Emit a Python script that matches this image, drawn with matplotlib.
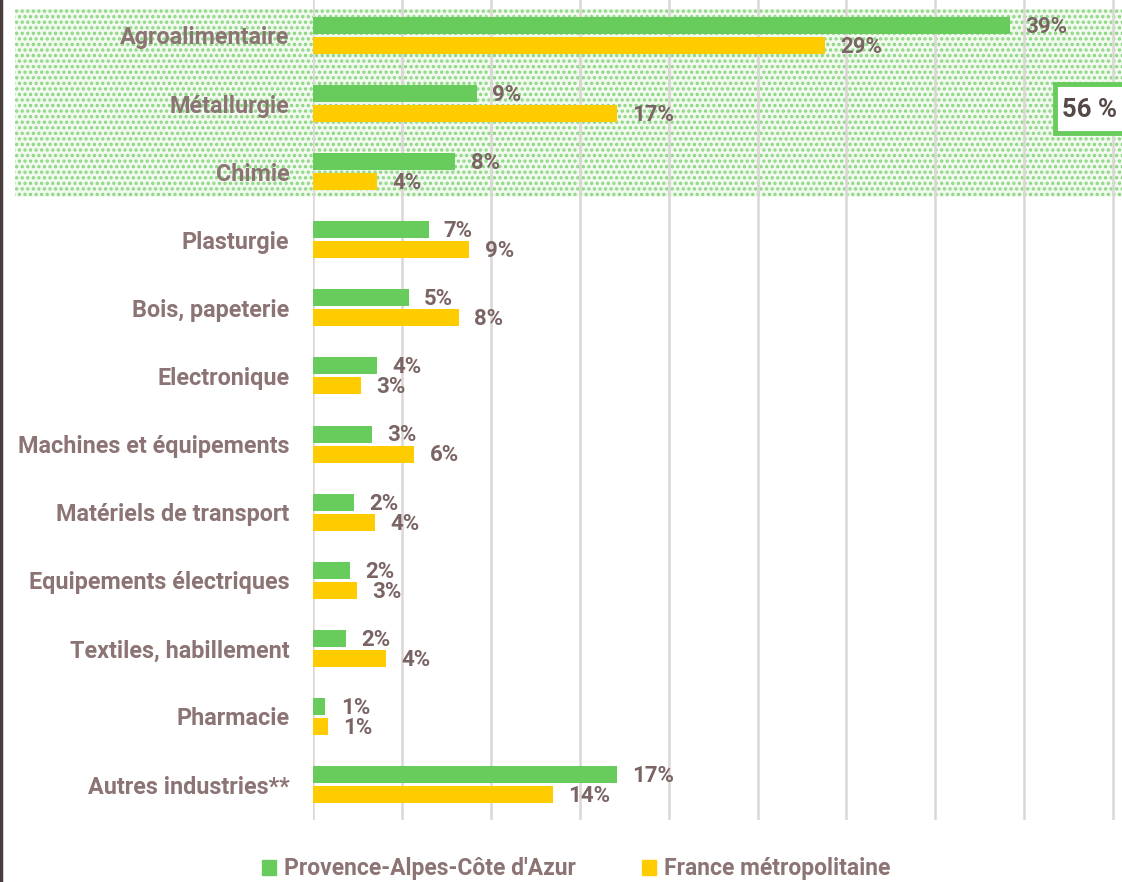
import numpy as np
import matplotlib.pyplot as plt
from matplotlib.patches import Rectangle
from matplotlib.lines import Line2D

plt.rcParams['font.family'] = ['Roboto', 'DejaVu Sans']
plt.rcParams['hatch.linewidth'] = 1.6

# --- Data (share of industrial employment, %) ---
categories = ["Agroalimentaire", "Métallurgie", "Chimie", "Plasturgie",
              "Bois, papeterie", "Electronique", "Machines et équipements",
              "Matériels de transport", "Equipements électriques",
              "Textiles, habillement", "Pharmacie", "Autres industries**"]
paca = [39.2, 9.2, 8.0, 6.5, 5.4, 3.6, 3.3, 2.3, 2.1, 1.85, 0.7, 17.1]
france = [28.8, 17.1, 3.6, 8.8, 8.2, 2.7, 5.7, 3.5, 2.5, 4.1, 0.85, 13.5]
paca_labels = ["39%", "9%", "8%", "7%", "5%", "4%", "3%", "2%", "2%", "2%", "1%", "17%"]
france_labels = ["29%", "17%", "4%", "9%", "8%", "3%", "6%", "4%", "3%", "4%", "1%", "14%"]
series_names = ["Provence-Alpes-Côte d'Azur", "France métropolitaine"]
highlight_text = "56 %"

GREEN = "#68cc5c"
YELLOW = "#ffcc00"
LABEL_COL = "#8c7474"
VALUE_COL = "#7a6464"

W, H = 1122, 882
fig = plt.figure(figsize=(W / 100, H / 100), dpi=100)
ax = fig.add_axes([313 / W, 62 / H, 1 - 313 / W, 820 / H])
ax.set_facecolor("none")

# highlighted block behind the first three categories
hl = Rectangle((15 / W, 1 - 197 / H), 1 - 15 / W, 188 / H, transform=fig.transFigure,
               facecolor="#f2faf0", edgecolor="#8ad680", hatch="...", linewidth=0, zorder=-1)
fig.patches.append(hl)

y = np.arange(len(categories))
h = 0.25
off = 0.147
ax.barh(y - off, paca, height=h, color=GREEN, zorder=3)
ax.barh(y + off, france, height=h, color=YELLOW, zorder=3)

for i in range(len(categories)):
    ax.annotate(paca_labels[i], (paca[i], y[i] - off + 0.02), xytext=(11, 0),
                textcoords="offset points", va="center", ha="left",
                fontsize=16, fontweight="bold", color=VALUE_COL, zorder=4)
    ax.annotate(france_labels[i], (france[i], y[i] + off + 0.02), xytext=(11, 0),
                textcoords="offset points", va="center", ha="left",
                fontsize=16, fontweight="bold", color=VALUE_COL, zorder=4)

ax.set_xlim(0, 45.5)
ax.set_ylim(len(categories) - 0.48, -0.52)
ax.set_xticks(np.arange(0, 46, 5))
ax.set_xticklabels([])
ax.set_yticks(y)
ax.set_yticklabels(categories, fontsize=16.8, fontweight="bold", color=LABEL_COL)
ax.tick_params(axis="both", length=0, pad=17)
ax.grid(axis="x", color="#ddd6d6", linewidth=1.8, zorder=1)
ax.set_axisbelow(True)
for s in ax.spines.values():
    s.set_visible(False)

# "56 %" box
box = Rectangle((1055 / W, 1 - 133 / H), 80 / W, 49 / H, transform=fig.transFigure,
                facecolor="white", edgecolor=GREEN, linewidth=3.5, zorder=5, clip_on=False)
fig.patches.append(box)
fig.text(1062 / W, 1 - 110 / H, highlight_text, fontsize=18.5, fontweight="bold",
         color="#574848", va="center", ha="left", zorder=6)

# left border line
fig.add_artist(Line2D([1 / W, 1 / W], [0, 1], color="#4a3c3c", linewidth=2.5,
                      transform=fig.transFigure))

handles = [Rectangle((0, 0), 1, 1, color=GREEN), Rectangle((0, 0), 1, 1, color=YELLOW)]
leg = fig.legend(handles, series_names, loc="center", bbox_to_anchor=(576 / W, 1 - 869 / H),
                 ncol=2, frameon=False, handlelength=0.6, handleheight=0.6,
                 handletextpad=0.35, columnspacing=2.9,
                 prop={"size": 16.5, "weight": "bold"})
for t in leg.get_texts():
    t.set_color(LABEL_COL)

fig.savefig("out.png", dpi=100)
